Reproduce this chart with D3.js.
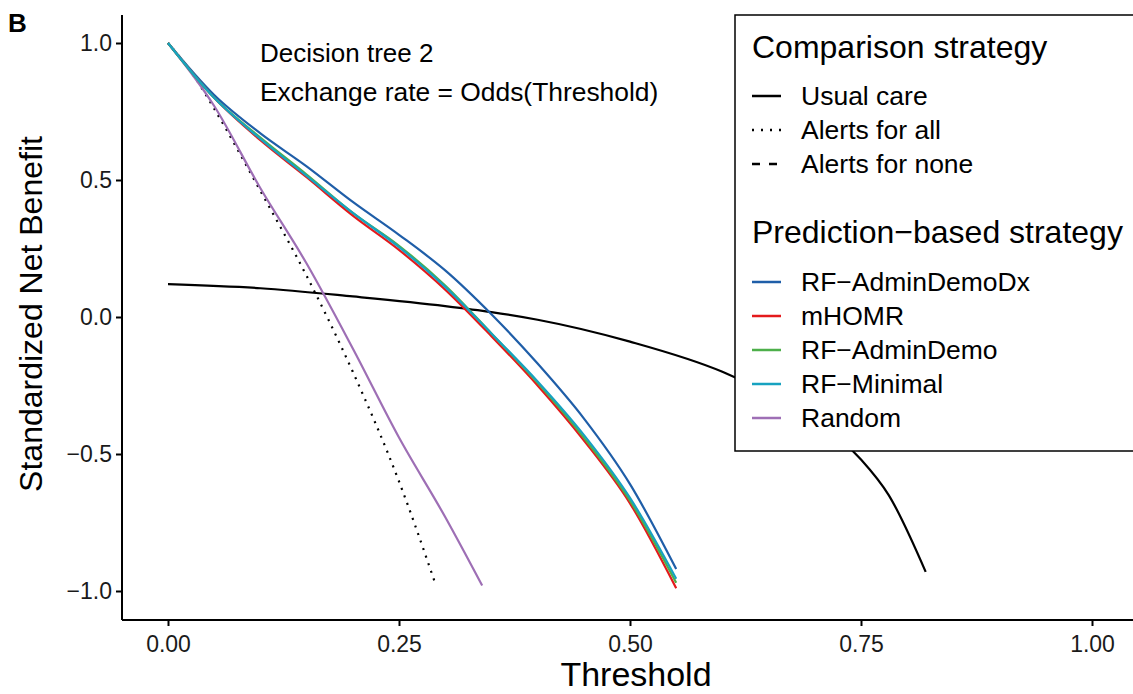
<!DOCTYPE html>
<html><head><meta charset="utf-8">
<script src="https://cdn.jsdelivr.net/npm/d3@7"></script>
<style>body{margin:0;background:#fff}text{font-family:"Liberation Sans",Arial,sans-serif}</style>
</head><body><svg id="c" width="1133" height="694"></svg>
<script>
// data
var usualX = [0, 0.1, 0.2, 0.3, 0.35, 0.4, 0.5, 0.6, 0.65, 0.7, 0.75, 0.78, 0.82];
var usualY = [0.12, 0.105, 0.075, 0.04, 0.018, -0.01, -0.09, -0.2, -0.28, -0.38, -0.52, -0.65, -0.93];
var allX = [0, 0.03, 0.05, 0.1, 0.15, 0.2, 0.25, 0.29];
var allY = [1, 0.87, 0.76, 0.46, 0.15, -0.2, -0.6, -0.98];
var modelX = [0, 0.05, 0.1, 0.15, 0.2, 0.25, 0.3, 0.35, 0.4, 0.45, 0.5, 0.55];
var dxY = [1, 0.81, 0.67, 0.55, 0.42, 0.30, 0.17, 0.01, -0.17, -0.37, -0.61, -0.92];
var mhomrY = [1, 0.8, 0.645, 0.51, 0.37, 0.245, 0.10, -0.07, -0.25, -0.45, -0.68, -0.99];
var demoY = [1, 0.8, 0.655, 0.52, 0.38, 0.26, 0.115, -0.06, -0.24, -0.44, -0.67, -0.97];
var minY = [1, 0.8, 0.65, 0.515, 0.38, 0.255, 0.11, -0.06, -0.235, -0.43, -0.66, -0.955];
var randX = [0, 0.05, 0.1, 0.15, 0.2, 0.25, 0.3, 0.34];
var randY = [1, 0.77, 0.47, 0.195, -0.115, -0.44, -0.73, -0.98];
var xTicks = [0, 0.25, 0.5, 0.75, 1];
var yTicks = [-1, -0.5, 0, 0.5, 1];
var models = [
  {name: 'RF\u2212AdminDemoDx', y: dxY, color: '#1f5ea8'},
  {name: 'mHOMR', y: mhomrY, color: '#e41a1c'},
  {name: 'RF\u2212AdminDemo', y: demoY, color: '#4daf4a'},
  {name: 'RF\u2212Minimal', y: minY, color: '#17a2c0'},
];

var svg = d3.select('#c');
var x = d3.scaleLinear().domain([0, 1]).range([168, 1092]);
var y = d3.scaleLinear().domain([-1, 1]).range([591, 43]);
var fmt = function (d) { return d.toFixed(2); };

var line = d3.line().x(function (d) { return x(d[0]); }).y(function (d) { return y(d[1]); }).curve(d3.curveMonotoneX);
var zip = function (a, b) { return a.map(function (v, i) { return [v, b[i]]; }); };

function draw(pts, color, dash) {
  svg.append('path').attr('d', line(pts)).attr('fill', 'none')
    .attr('stroke', color).attr('stroke-width', 2.2).attr('stroke-dasharray', dash || null);
}
draw(zip(usualX, usualY), '#000');
draw(zip(allX, allY), '#000', '2,6');
draw(zip(randX, randY), '#9e6fb5');
models.forEach(function (m) { draw(zip(modelX, m.y), m.color); });

// axes
var xa = svg.append('g').attr('transform', 'translate(0,620)')
  .call(d3.axisBottom(x).tickValues(xTicks).tickFormat(fmt).tickSizeOuter(0).tickSize(6));
xa.select('.domain').attr('d', 'M122,0H1133');
var ya = svg.append('g').attr('transform', 'translate(122,0)')
  .call(d3.axisLeft(y).tickValues(yTicks).tickFormat(function (d) { return d.toFixed(1).replace('-', '\u2212'); }).tickSizeOuter(0).tickSize(6));
ya.select('.domain').attr('d', 'M0,15V620');
svg.selectAll('.tick text').style('font-size', '23px').style('font-family', '"Liberation Sans",Arial,sans-serif').attr('fill', '#1a1a1a');
xa.selectAll('.tick text').attr('dy', '1.0em');
ya.selectAll('.tick text').attr('x', -10);
svg.selectAll('.domain, .tick line').attr('stroke', '#000').attr('stroke-width', 2);

svg.append('text').attr('x', 636).attr('y', 686).attr('text-anchor', 'middle').attr('font-size', 34).text('Threshold');
svg.append('text').attr('transform', 'translate(42,314) rotate(-90)').attr('text-anchor', 'middle').attr('font-size', 32).text('Standardized Net Benefit');
svg.append('text').attr('x', 8).attr('y', 32).attr('font-size', 26).attr('font-weight', 'bold').text('B');
svg.append('text').attr('x', 260).attr('y', 62).attr('font-size', 26).text('Decision tree 2');
svg.append('text').attr('x', 260).attr('y', 101).attr('font-size', 26.4).text('Exchange rate = Odds(Threshold)');

// legend
var lg = svg.append('g');
lg.append('rect').attr('x', 735).attr('y', 15).attr('width', 400).attr('height', 436).attr('fill', '#fff').attr('stroke', '#000').attr('stroke-width', 1.5);
lg.append('text').attr('x', 752).attr('y', 58).attr('font-size', 32).text('Comparison strategy');
var comp = [['Usual care', null], ['Alerts for all', '2,7'], ['Alerts for none', '8,9']];
comp.forEach(function (c, i) {
  var yy = 96 + i * 34;
  lg.append('line').attr('x1', 752).attr('x2', 781).attr('y1', yy).attr('y2', yy)
    .attr('stroke', '#000').attr('stroke-width', 2.5).attr('stroke-dasharray', c[1]);
  lg.append('text').attr('x', 801).attr('y', yy + 9).attr('font-size', 26.5).text(c[0]);
});
lg.append('text').attr('x', 752).attr('y', 243).attr('font-size', 32).text('Prediction\u2212based strategy');
models.concat([{name: 'Random', color: '#9e6fb5'}]).forEach(function (m, i) {
  var yy = 282 + i * 34;
  lg.append('line').attr('x1', 752).attr('x2', 781).attr('y1', yy).attr('y2', yy).attr('stroke', m.color).attr('stroke-width', 2.5);
  lg.append('text').attr('x', 801).attr('y', yy + 9).attr('font-size', 26.5).text(m.name);
});
</script></body></html>
